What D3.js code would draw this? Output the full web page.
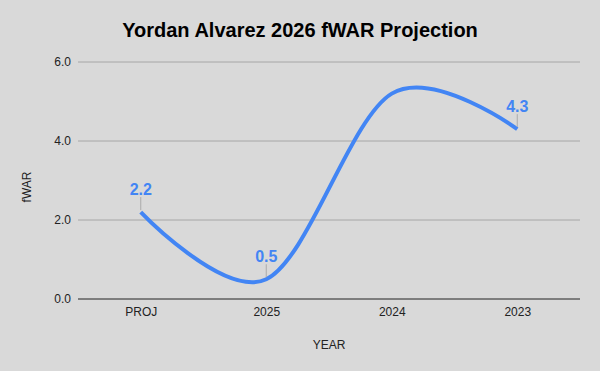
<!DOCTYPE html>
<html><head><meta charset="utf-8">
<script src="https://cdn.jsdelivr.net/npm/d3@7"></script>
<style>body{margin:0;background:#d9d9d9;}svg{display:block;font-family:"Liberation Sans",Arial,sans-serif;}</style>
</head><body>
<svg id="c" width="600" height="371"></svg>
<script>
const categories = ["PROJ", "2025", "2024", "2023"];
const fwar = [2.2, 0.5, 5.2, 4.3];
const showLabel = [true, true, false, true];
const yTicks = [0, 2, 4, 6];

const svg = d3.select("#c");
const W = 600, H = 371;
const m = {left: 78, right: 20, top: 62, bottom: 72};
svg.append("rect").attr("width", W).attr("height", H).attr("fill", "#d9d9d9");

const x = d3.scalePoint().domain(categories).range([m.left, W - m.right]).padding(0.5);
const y = d3.scaleLinear().domain([0, 6]).range([H - m.bottom, m.top]);

// grid
svg.append("g").selectAll("line").data(yTicks.filter(d => d !== 0)).join("line")
  .attr("x1", m.left).attr("x2", W - m.right)
  .attr("y1", d => y(d)).attr("y2", d => y(d))
  .attr("stroke", "#a6a6a6").attr("stroke-width", 1);

// y tick labels
const yAxis = svg.append("g").attr("transform", `translate(${m.left},0)`)
  .call(d3.axisLeft(y).tickValues(yTicks).tickFormat(d3.format(".1f")).tickSize(0).tickPadding(7));
yAxis.select(".domain").remove();
yAxis.selectAll("text").attr("font-size", 12).attr("fill", "#222").attr("font-family", "Liberation Sans, Arial, sans-serif");

// baseline
svg.append("line").attr("x1", m.left).attr("x2", W - m.right)
  .attr("y1", y(0)).attr("y2", y(0)).attr("stroke", "#222").attr("stroke-width", 1);

// x axis
const xAxis = svg.append("g").attr("transform", `translate(0,${y(0)})`)
  .call(d3.axisBottom(x).tickSize(0).tickPadding(8));
xAxis.select(".domain").remove();
xAxis.selectAll("text").attr("font-size", 12).attr("fill", "#222").attr("font-family", "Liberation Sans, Arial, sans-serif");

// line
const data = categories.map((c, i) => ({c, v: fwar[i], show: showLabel[i]}));
const line = d3.line().x(d => x(d.c)).y(d => y(d.v)).curve(d3.curveCardinal.tension(0));
svg.append("path").datum(data).attr("d", line)
  .attr("fill", "none").attr("stroke", "#4285f4").attr("stroke-width", 4)
  .attr("stroke-linecap", "butt");

// leader lines and labels
const lab = data.filter(d => d.show);
svg.append("g").selectAll("line").data(lab).join("line")
  .attr("x1", d => x(d.c)).attr("x2", d => x(d.c))
  .attr("y1", d => y(d.v) - 2).attr("y2", d => y(d.v) - 15)
  .attr("stroke", "#aaaaaa").attr("stroke-width", 1);
svg.append("g").selectAll("text").data(lab).join("text")
  .attr("x", d => x(d.c)).attr("y", d => y(d.v) - 17)
  .attr("text-anchor", "middle").attr("font-size", 16).attr("font-weight", "bold")
  .attr("fill", "#4285f4").text(d => d.v.toFixed(1));

// title
svg.append("text").attr("x", 300).attr("y", 37).attr("text-anchor", "middle")
  .attr("font-size", 20).attr("font-weight", "bold").attr("fill", "#000")
  .text("Yordan Alvarez 2026 fWAR Projection");

// axis titles
svg.append("text").attr("x", (m.left + W - m.right) / 2).attr("y", 349).attr("text-anchor", "middle")
  .attr("font-size", 12).attr("fill", "#222").text("YEAR");
svg.append("text").attr("transform", "translate(31,187) rotate(-90)").attr("text-anchor", "middle")
  .attr("font-size", 12).attr("fill", "#222").text("fWAR");
</script>
</body></html>
